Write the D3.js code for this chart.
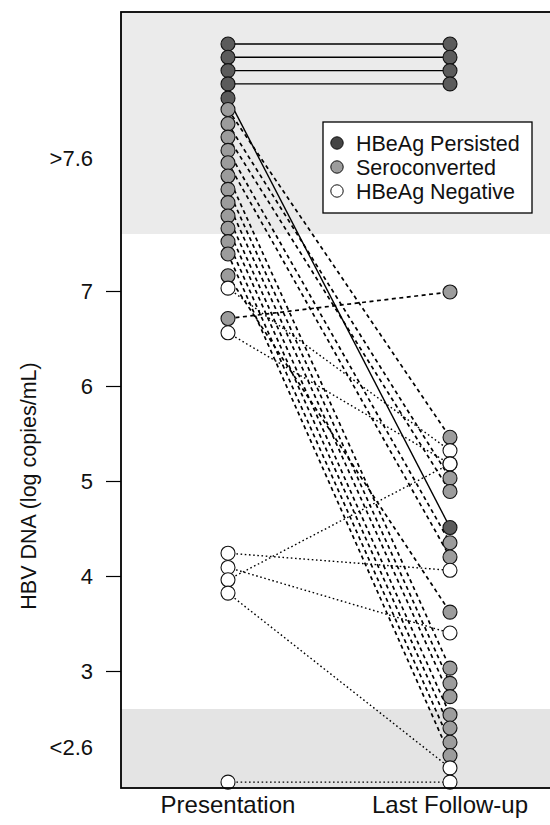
<!DOCTYPE html>
<html>
<head>
<meta charset="utf-8">
<script src="https://cdn.jsdelivr.net/npm/d3@7"></script>
<style>
  body { margin: 0; background: #fff; }
  svg { display: block; font-family: "Liberation Sans", Arial, sans-serif; }
</style>
</head>
<body>
<svg id="chart" width="550" height="825"></svg>
<script>
const timepoints = ['Presentation', 'Last Follow-up'];
const groups = ['HBeAg Persisted', 'Seroconverted', 'HBeAg Negative'];

// one entry per patient (values above 7.6 are stacked as drawn in the figure)
const patientGroup = [
    0, 0, 0, 0, 0,
    1, 1, 1, 1, 1, 1, 1, 1, 1, 1, 1, 1, 1, 1,
    2, 2, 2, 2, 2, 2, 2,
];
const atPresentation = [
    9.60, 9.46, 9.32, 9.18, 9.03,
    8.91, 8.76, 8.62, 8.48, 8.35, 8.21, 8.07, 7.93, 7.79, 7.66, 7.52, 7.39, 7.16, 6.71,
    7.03, 6.56, 4.24, 4.09, 3.96, 3.82, 1.83,
];
const atFollowUp = [
    9.60, 9.46, 9.32, 9.18, 4.51,
    5.46, 5.03, 4.89, 4.35, 4.20, 3.03, 2.87, 2.73, 2.54, 2.40, 2.25, 2.11, 3.62, 6.99,
    5.32, 5.18, 4.06, 3.40, 5.18, 1.98, 1.83,
];

const tickValues = [8.4, 7, 6, 5, 4, 3, 2.2];
const tickLabels = ['>7.6', '7', '6', '5', '4', '3', '<2.6'];
const upperLimit = 7.6;
const lowerLimit = 2.6;

const plot = {left: 121, right: 552, top: 12, bottom: 788};
const fills = ['#5b5b5b', '#9c9c9c', '#ffffff'];
const dashes = [null, '4,3.5', '1.6,2.6'];
const widths = [1.4, 1.7, 1.4];

const svg = d3.select('#chart');

const y = d3.scaleLinear().domain([3, 7]).range([671, 291]);
const x = d3.scalePoint().domain(timepoints).range([228, 450]);

// shaded "out of range" bands
svg.append('rect')
    .attr('x', plot.left).attr('y', plot.top)
    .attr('width', plot.right - plot.left)
    .attr('height', y(upperLimit) - plot.top)
    .attr('fill', '#ebebeb');
svg.append('rect')
    .attr('x', plot.left).attr('y', y(lowerLimit))
    .attr('width', plot.right - plot.left)
    .attr('height', plot.bottom - y(lowerLimit))
    .attr('fill', '#e4e4e4');

const patients = patientGroup.map((g, i) => ({
    group: g,
    pres: atPresentation[i],
    fu: atFollowUp[i],
}));

svg.append('g')
    .selectAll('line')
    .data(patients)
    .enter().append('line')
    .attr('x1', x(timepoints[0]))
    .attr('y1', (d) => y(d.pres))
    .attr('x2', x(timepoints[1]))
    .attr('y2', (d) => y(d.fu))
    .attr('stroke', '#000')
    .attr('stroke-width', (d) => widths[d.group])
    .attr('stroke-dasharray', (d) => dashes[d.group]);

const dots = svg.append('g');
[['pres', timepoints[0]], ['fu', timepoints[1]]].forEach(([key, tp]) => {
    dots.selectAll(null)
        .data(patients.slice().sort((a, b) => b[key] - a[key]))
        .enter().append('circle')
        .attr('cx', x(tp))
        .attr('cy', (d) => y(d[key]))
        .attr('r', 7)
        .attr('fill', (d) => fills[d.group])
        .attr('stroke', '#111')
        .attr('stroke-width', 1.1);
});

// frame
svg.append('rect')
    .attr('x', plot.left).attr('y', plot.top)
    .attr('width', plot.right - plot.left)
    .attr('height', plot.bottom - plot.top)
    .attr('fill', 'none')
    .attr('stroke', '#000')
    .attr('stroke-width', 1.8);

const axis = svg.append('g')
    .attr('transform', `translate(${plot.left},0)`)
    .call(d3.axisLeft(y)
        .tickValues(tickValues)
        .tickFormat((d, i) => tickLabels[i])
        .tickSize(15)
        .tickPadding(13));
axis.select('.domain').remove();
axis.selectAll('.tick line')
    .attr('stroke-width', 1.2)
    .filter((d) => d > upperLimit || d < lowerLimit)
    .remove();
axis.selectAll('.tick text')
    .attr('font-size', 22)
    .attr('font-family', '"Liberation Sans", Arial, sans-serif')
    .attr('fill', '#111');

svg.append('text')
    .attr('transform', `translate(36,${(plot.top + plot.bottom) / 2 + 86}) rotate(-90)`)
    .attr('text-anchor', 'middle')
    .attr('font-size', 21.5)
    .attr('fill', '#111')
    .text('HBV DNA (log copies/mL)');

svg.append('g')
    .selectAll('text')
    .data(timepoints)
    .enter().append('text')
    .attr('x', (d) => x(d))
    .attr('y', 813)
    .attr('text-anchor', 'middle')
    .attr('font-size', 24)
    .attr('fill', '#111')
    .text((d) => d);

// legend
const legend = svg.append('g').attr('transform', 'translate(323,122)');
legend.append('rect')
    .attr('width', 209).attr('height', 91)
    .attr('fill', '#fff')
    .attr('stroke', '#000')
    .attr('stroke-width', 1.3);
const rows = legend.selectAll('g.row')
    .data(groups)
    .enter().append('g')
    .attr('class', 'row')
    .attr('transform', (d, i) => `translate(0,${21 + i * 24})`);
rows.append('circle')
    .attr('cx', 14).attr('r', 6.2)
    .attr('fill', (d, i) => i === 0 ? '#444' : fills[i])
    .attr('stroke', '#111')
    .attr('stroke-width', 1);
rows.append('text')
    .attr('x', 33)
    .attr('dy', '0.36em')
    .attr('font-size', 21.5)
    .attr('fill', '#111')
    .text((d) => d);
</script>
</body>
</html>
